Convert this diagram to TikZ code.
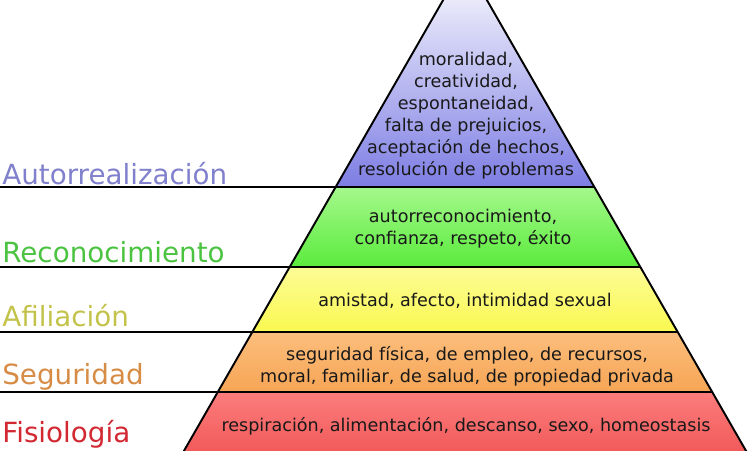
\documentclass[tikz,border=0pt]{standalone}
\usepackage{fontspec}
\setmainfont{DejaVu Sans}
\usepackage{tikz}
\definecolor{AutoCol}{RGB}{128,128,204}
\definecolor{ReconCol}{RGB}{75,195,65}
\definecolor{AfilCol}{RGB}{195,195,75}
\definecolor{SegCol}{RGB}{215,140,70}
\definecolor{FisioCol}{RGB}{210,40,50}
\tikzstyle{need} = [anchor=base west,inner sep=0pt,font=\fontsize{15.8}{18}\selectfont]
\tikzstyle{level} = [align=center,inner sep=0pt,text=black!90,font=\fontsize{10}{12.5}\selectfont]
\tikzstyle{edge} = [line width=1.1pt,black]

\begin{document}
\begin{tikzpicture}[x=0.02cm,y=-0.02cm]
      \useasboundingbox (0,0) rectangle (750,450);
      \clip (0,0) rectangle (750,450);
      % pyramid corners
      \coordinate (top) at (465,-38);
      \coordinate (a1) at (335.6,187);\coordinate (b1) at (594.4,187);
      \coordinate (a2) at (289.6,267);\coordinate (b2) at (640.4,267);
      \coordinate (a3) at (252.2,332);\coordinate (b3) at (677.8,332);
      \coordinate (a4) at (217.7,392);\coordinate (b4) at (712.3,392);
      \coordinate (a5) at (178.7,460);\coordinate (b5) at (751.3,460);
      % left ends of the dividers
      \coordinate (s1) at (0,187);\coordinate (s2) at (0,267);
      \coordinate (s3) at (0,332);\coordinate (s4) at (0,392);
      \fill[top color=white,bottom color={rgb,255:red,125;green,125;blue,228}](top)--(b1)--(a1)--cycle;
      \fill[top color={rgb,255:red,165;green,248;blue,140},bottom color={rgb,255:red,90;green,235;blue,60}](a1)--(b1)--(b2)--(a2)--cycle;
      \fill[top color={rgb,255:red,252;green,252;blue,150},bottom color={rgb,255:red,250;green,248;blue,80}](a2)--(b2)--(b3)--(a3)--cycle;
      \fill[top color={rgb,255:red,252;green,190;blue,125},bottom color={rgb,255:red,246;green,165;blue,85}](a3)--(b3)--(b4)--(a4)--cycle;
      \fill[top color={rgb,255:red,252;green,125;blue,125},bottom color={rgb,255:red,240;green,85;blue,85}](a4)--(b4)--(b5)--(a5)--cycle;
      \draw[edge](a5)--(top)--(b5);
      \draw[edge](s1)--(b1)(s2)--(b2)(s3)--(b3)(s4)--(b4);
      \node[level](moral) at (466,115.5){moralidad,\\creatividad,\\espontaneidad,\\falta de prejuicios,\\aceptación de hechos,\\resolución de problemas};
      \node[level](estima) at (463,229){autorreconocimiento,\\confianza, respeto, éxito};
      \node[level](social) at (465,301){amistad, afecto, intimidad sexual};
      \node[level](proteccion) at (467,366){seguridad física, de empleo, de recursos,\\moral, familiar, de salud, de propiedad privada};
      \node[level](basicas) at (466,426){respiración, alimentación, descanso, sexo, homeostasis};
      \node[need,AutoCol](autorr) at (2,184){Autorrealización};
      \node[need,ReconCol](recon) at (2,262){Reconocimiento};
      \node[need,AfilCol](afil) at (2,326){Afiliación};
      \node[need,SegCol](seg) at (2,384){Seguridad};
      \node[need,FisioCol](fisio) at (2,442){Fisiología};
\end{tikzpicture}
\end{document}
